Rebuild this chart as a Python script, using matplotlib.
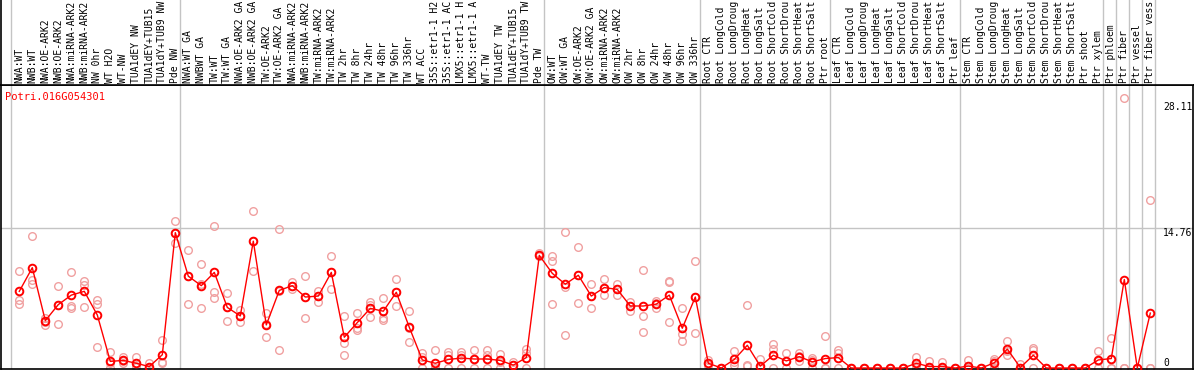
import matplotlib
matplotlib.use("Agg")
import matplotlib.pyplot as plt

# -----------------------------
# DATA
# -----------------------------
gene_id = "Potri.016G054301"

sample_labels = [
    # group 1
    "NWA:WT", "NWB:WT", "NWA:OE-ARK2", "NWB:OE-ARK2", "NWA:miRNA-ARK2",
    "NWB:miRNA-ARK2", "NW 0hr", "WT H2O", "WT-NW", "TUA1dEY NW",
    "TUA1dEY+TUB15", "TUA1dY+TUB9 NW", "Pde NW",
    # group 2
    "NWA:WT GA", "NWBWT GA", "TW:WT", "TW:WT GA", "NWA:OE-ARK2 GA",
    "NWB:OE-ARK2 GA", "TW:OE-ARK2", "TW:OE-ARK2 GA", "NWA:miRNA-ARK2",
    "NWB:miRNA-ARK2", "TW:miRNA-ARK2", "TW:miRNA-ARK2", "TW 2hr", "TW 8hr",
    "TW 24hr", "TW 48hr", "TW 96hr", "TW 336hr", "WT ACC", "35S::etr1-1 H2",
    "35S::etr1-1 AC", "LMX5::etr1-1 H", "LMX5::etr1-1 A", "WT-TW",
    "TUA1dEY TW", "TUA1dEY+TUB15", "TUA1dY+TUB9 TW", "Pde TW",
    # group 3
    "OW:WT", "OW:WT GA", "OW:OE-ARK2", "OW:OE-ARK2 GA", "OW:miRNA-ARK2",
    "OW:miRNA-ARK2", "OW 2hr", "OW 8hr", "OW 24hr", "OW 48hr", "OW 96hr",
    "OW 336hr",
    # root
    "Root CTR", "Root LongCold", "Root LongDroug", "Root LongHeat",
    "Root LongSalt", "Root ShortCold", "Root ShortDrou", "Root ShortHeat",
    "Root ShortSalt", "Ptr root",
    # leaf
    "Leaf CTR", "Leaf LongCold", "Leaf LongDroug", "Leaf LongHeat",
    "Leaf LongSalt", "Leaf ShortCold", "Leaf ShortDrou", "Leaf ShortHeat",
    "Leaf ShortSalt", "Ptr leaf",
    # stem
    "Stem CTR", "Stem LongCold", "Stem LongDroug", "Stem LongHeat",
    "Stem LongSalt", "Stem ShortCold", "Stem ShortDrou", "Stem ShortHeat",
    "Stem ShortSalt", "Ptr shoot", "Ptr xylem",
    # single tissues
    "Ptr phloem", "Ptr fiber", "Ptr vessel", "Ptr fiber vess",
]

group_sizes = [13, 28, 12, 10, 10, 11, 1, 1, 1, 1]

mean_expr = [
    8.1, 10.6, 5.0, 6.7, 7.7, 8.1, 5.6, 0.7, 0.8, 0.5, 0.15, 1.4, 14.3,
    9.7, 8.7, 10.1, 6.4, 5.5, 13.4, 4.55, 8.2, 8.7, 7.5, 7.6, 10.1, 3.25,
    4.8, 6.3, 6.0, 8.0, 4.3, 0.85, 0.5, 0.9, 1.05, 0.95, 0.95, 0.8, 0.3,
    1.1, 11.9,
    10.0, 8.85, 9.8, 7.6, 8.5, 8.3, 6.55, 6.55, 6.75, 7.7, 4.2, 7.5,
    0.5, 0.0, 0.9, 2.4, 0.2, 1.35, 0.75, 1.2, 0.65, 1.0,
    1.1, 0.0, 0.0, 0.0, 0.0, 0.0, 0.5, 0.15, 0.15, 0.0,
    0.2, 0.0, 0.55, 2.0, 0.05, 1.35, 0.0, 0.0, 0.0, 0.0, 0.85,
    1.0, 9.35, 0.0, 5.8,
]

rep1 = [
    10.2, 13.9, 5.25, 8.7, 10.1, 9.2, 7.2, 1.7, 1.2, 1.2, 0.55, 2.95, 15.5,
    12.5, 10.95, 15.0, 7.9, 6.1, 16.6, 5.8, 14.65, 9.1, 9.7, 8.1, 11.8, 5.5,
    5.8, 7.0, 7.4, 9.4, 6.0, 1.55, 1.85, 1.7, 1.65, 1.9, 1.9, 1.45, 0.65,
    2.0, 12.1,
    11.8, 14.4, 12.75, 8.85, 9.4, 8.9, 7.0, 10.35, 7.1, 9.15, 6.3, 11.3,
    0.85, 0.0, 1.8, 6.65, 0.9, 2.5, 1.55, 1.6, 1.1, 3.4,
    1.9, 0.0, 0.0, 0.0, 0.0, 0.0, 1.2, 0.77, 0.65, 0.0,
    0.8, 0.0, 0.9, 2.8, 0.4, 2.15, 0.0, 0.0, 0.0, 0.0, 1.8,
    3.15, 28.5, 0.0, 17.75,
]

rep2 = [
    7.2, 9.3, 4.9, 4.7, 6.55, 8.8, 6.8, 0.0, 0.5, 0.15, 0.0, 0.6, 13.2,
    6.8, 6.3, 8.0, 5.0, 4.9, 10.2, 3.25, 1.9, 8.3, 5.25, 7.0, 8.3, 2.6,
    4.25, 6.65, 5.3, 6.55, 2.75, 1.2, 0.0, 1.35, 1.35, 1.0, 1.35, 0.65, 0.3,
    1.55, 11.8,
    11.3, 3.5, 6.85, 6.3, 7.7, 7.7, 6.0, 5.5, 6.3, 4.85, 3.55, 3.7,
    0.3, 0.0, 0.3, 0.3, 0.0, 2.0, 0.7, 0.75, 0.85, 0.0,
    1.55, 0.0, 0.0, 0.0, 0.0, 0.0, 0.3, 0.0, 0.0, 0.0,
    0.0, 0.0, 0.75, 1.8, 0.0, 1.9, 0.0, 0.0, 0.0, 0.0, 0.75,
    0.0, 0.0, 0.0, 0.0,
]

rep3 = [
    6.8, 8.9, 4.5, 6.7, 6.3, 6.4, 2.2, 0.5, 0.7, 0.2, 0.0, 0.5, 14.3,
    9.7, 8.85, 7.4, 6.4, 5.5, 13.4, 4.6, 8.1, 8.7, 7.5, 7.6, 10.1, 1.35,
    4.0, 5.4, 5.1, 8.0, 4.2, 0.0, 0.0, 0.0, 0.0, 0.0, 0.0, 0.0, 0.0,
    0.0, 11.8,
    6.75, 8.6, 9.8, 7.65, 8.4, 8.3, 6.6, 3.8, 6.85, 9.1, 2.85, 7.5,
    0.35, 0.0, 0.6, 0.25, 0.0, 0.0, 0.0, 1.25, 0.0, 0.0,
    0.0, 0.0, 0.0, 0.0, 0.0, 0.0, 0.0, 0.0, 0.0, 0.0,
    0.0, 0.0, 0.0, 1.35, 0.0, 0.0, 0.0, 0.0, 0.0, 0.0, 0.0,
    0.0, 0.0, 0.0, 0.0,
]

y_ticks = [0, 14.76, 28.11]

# -----------------------------
# LAYOUT (pixel geometry of the reference)
# -----------------------------
W, H = 1194, 370
DPI = 100
COL_W = 13.0
X0 = 19.3              # pixel x of first column
PLOT_TOP, PLOT_BOT = 85, 369
LEFT, RIGHT = 1, 1193
Y_ZERO, PX_PER_UNIT = 368, 9.465

FONT = "DejaVu Sans Mono"
RED = "#ff0000"
PINK = "#f0a0a0"
GRID = "#c4c4c4"

xs = list(range(len(sample_labels)))
x_left = (LEFT - X0) / COL_W
x_right = (RIGHT - X0) / COL_W
y_bot = -(PLOT_BOT - Y_ZERO) / PX_PER_UNIT
y_top = (Y_ZERO - PLOT_TOP) / PX_PER_UNIT

fig = plt.figure(figsize=(W / DPI, H / DPI), dpi=DPI)

ax = fig.add_axes([LEFT / W, (H - PLOT_BOT) / H,
                   (RIGHT - LEFT) / W, (PLOT_BOT - PLOT_TOP) / H])
hdr = fig.add_axes([LEFT / W, (H - PLOT_TOP) / H,
                    (RIGHT - LEFT) / W, PLOT_TOP / H])

# group separators
bounds = [0]
for g in group_sizes:
    bounds.append(bounds[-1] + g)
for b in bounds:
    xb = (11 + COL_W * b - X0) / COL_W
    ax.axvline(xb, color=GRID, lw=1, zorder=0)
    hdr.axvline(xb, color=GRID, lw=1, zorder=0)

ax.axhline(14.76, color=GRID, lw=1, zorder=0)

# replicates
for rep in (rep1, rep2, rep3):
    ax.plot(xs, rep, linestyle="none", marker="o", markersize=5.5,
            markerfacecolor="none", markeredgecolor=PINK, markeredgewidth=1.0,
            zorder=2, clip_on=False)

# mean line
ax.plot(xs, mean_expr, color=RED, lw=1.0, marker="o", markersize=5.5,
        markerfacecolor="none", markeredgecolor=RED, markeredgewidth=1.4,
        zorder=3, clip_on=False)

ax.set_xlim(x_left, x_right)
ax.set_ylim(y_bot, y_top)
ax.set_xticks([])
ax.set_yticks([])
for s in ax.spines.values():
    s.set_color("black")
    s.set_linewidth(1.2)

# right-side value labels
tx = (1163 - X0) / COL_W
for v in y_ticks:
    ax.text(tx, v, f"{v:g}" if v == 0 else f"{v:.2f}", family=FONT,
            fontsize=7, color="black", ha="left",
            va="bottom" if v == 0 else "top")

fig.text(5 / W, 1 - 97 / H, gene_id, family=FONT, fontsize=7.5,
         color=RED, ha="left", va="center")

# header with rotated sample names
hdr.set_xlim(x_left, x_right)
hdr.set_ylim(0, PLOT_TOP)
hdr.set_xticks([])
hdr.set_yticks([])
for side in ("top", "right"):
    hdr.spines[side].set_visible(False)
hdr.spines["left"].set_linewidth(1.2)
hdr.spines["bottom"].set_linewidth(1.2)
for x, lab in zip(xs, sample_labels):
    hdr.text(x, 2, lab, rotation=90, family=FONT, fontsize=7,
             ha="center", va="bottom", clip_on=True)

fig.savefig("out.png", dpi=DPI)
